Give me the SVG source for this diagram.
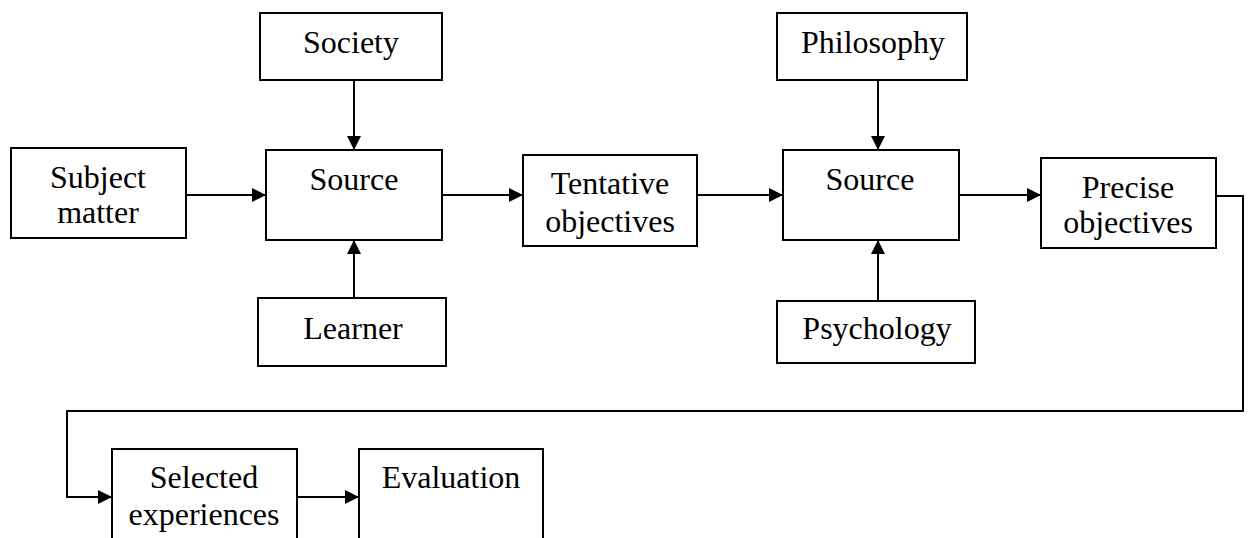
<svg xmlns="http://www.w3.org/2000/svg" width="1248" height="538" viewBox="0 0 1248 538">
<style>
.box{fill:#fff;stroke:#000;stroke-width:2}
.t{font-family:"Liberation Serif","Times New Roman",serif;font-size:32px;fill:#000;text-anchor:middle}
.c{fill:none;stroke:#000;stroke-width:2}
</style>
<defs>
<marker id="ah" viewBox="0 0 14 14" markerWidth="14" markerHeight="14" refX="14" refY="7" orient="auto" markerUnits="userSpaceOnUse">
<path d="M0,0 L14,7 L0,14 Z" fill="#000"/>
</marker>
</defs>
<rect width="1248" height="538" fill="#fff"/>
<g id="society"><rect class="box" x="260" y="13" width="182" height="67"/><text class="t" x="351" y="53">Society</text></g>
<g id="subject"><rect class="box" x="11" y="148" width="175" height="90"/><text class="t" x="98" y="188">Subject</text><text class="t" x="98" y="223">matter</text></g>
<g id="source1"><rect class="box" x="266" y="150" width="176" height="90"/><text class="t" x="354" y="190">Source</text></g>
<g id="learner"><rect class="box" x="258" y="298" width="188" height="68"/><text class="t" x="353" y="339">Learner</text></g>
<g id="tentative"><rect class="box" x="523" y="155" width="174" height="91"/><text class="t" x="610" y="194">Tentative</text><text class="t" x="610" y="232">objectives</text></g>
<g id="philosophy"><rect class="box" x="777" y="13" width="190" height="67"/><text class="t" x="873" y="53">Philosophy</text></g>
<g id="source2"><rect class="box" x="783" y="150" width="176" height="90"/><text class="t" x="870" y="190">Source</text></g>
<g id="psychology"><rect class="box" x="777" y="301" width="198" height="62"/><text class="t" x="877" y="339">Psychology</text></g>
<g id="precise"><rect class="box" x="1041" y="158" width="175" height="90"/><text class="t" x="1128" y="198">Precise</text><text class="t" x="1128" y="233">objectives</text></g>
<g id="selected"><rect class="box" x="112" y="449" width="185" height="100"/><text class="t" x="204" y="488">Selected</text><text class="t" x="204" y="525">experiences</text></g>
<g id="evaluation"><rect class="box" x="359" y="449" width="184" height="100"/><text class="t" x="451" y="488">Evaluation</text></g>
<g id="connectors">
<line class="c" x1="354" y1="80" x2="354" y2="150" marker-end="url(#ah)"/>
<line class="c" x1="186" y1="195" x2="266" y2="195" marker-end="url(#ah)"/>
<line class="c" x1="354" y1="298" x2="354" y2="240" marker-end="url(#ah)"/>
<line class="c" x1="442" y1="195" x2="523" y2="195" marker-end="url(#ah)"/>
<line class="c" x1="697" y1="195" x2="783" y2="195" marker-end="url(#ah)"/>
<line class="c" x1="878" y1="80" x2="878" y2="150" marker-end="url(#ah)"/>
<line class="c" x1="878" y1="301" x2="878" y2="240" marker-end="url(#ah)"/>
<line class="c" x1="959" y1="195" x2="1041" y2="195" marker-end="url(#ah)"/>
<polyline class="c" points="1216,196 1243,196 1243,411 67,411 67,497 112,497" marker-end="url(#ah)"/>
<line class="c" x1="297" y1="497" x2="359" y2="497" marker-end="url(#ah)"/>
</g>
</svg>
